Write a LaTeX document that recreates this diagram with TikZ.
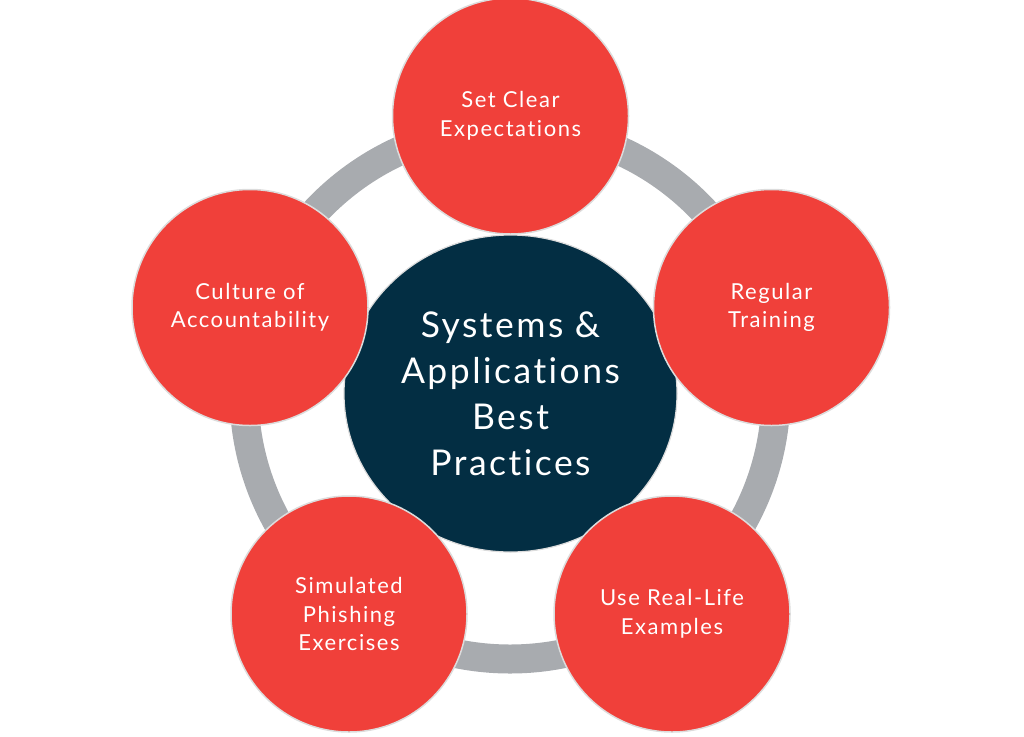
\documentclass[tikz,border=0pt]{standalone}
\usepackage{fontspec}
\setmainfont{Lato}[LetterSpace=7,Ligatures=NoCommon]
\usetikzlibrary{shapes.geometric}
\definecolor{ringgray}{HTML}{A8ABAF}
\definecolor{redfill}{HTML}{F0403A}
\definecolor{navy}{HTML}{032E43}
\definecolor{rimgray}{HTML}{DCDCDC}
\tikzset{
  ring/.style={draw=ringgray, line width=29pt},
  hub/.style={ellipse, fill=navy, draw=rimgray, line width=1.2pt, minimum width=333pt, minimum height=317pt, inner sep=0pt, text=white, align=center, font=\fontsize{35.5}{46}\selectfont},
  petal/.style={circle, fill=redfill, draw=rimgray, line width=1.5pt, minimum size=236pt, inner sep=0pt, text=white, align=center, font=\fontsize{22}{28.5}\selectfont}
}
\begin{document}
\begin{tikzpicture}[x=1pt,y=-1pt]
\useasboundingbox (0,0) rectangle (1024,736);
\coordinate (ringc) at (510,393);
\draw[ring] (ringc) circle[radius=266pt];
\node[hub] (hub) at (510.5,393.5) {Systems \&\\Applications\\Best\\Practices};
\node[petal] (top) at (510.5,116) {Set Clear\\Expectations};
\node[petal] (right) at (771.5,307.5) {Regular\\Training};
\node[petal] (bright) at (672,614) {Use Real-Life\\Examples};
\node[petal] (bleft) at (349,614) {Simulated\\Phishing\\Exercises};
\node[petal] (left) at (250,307.5) {Culture of\\Accountability};
\end{tikzpicture}
\end{document}
